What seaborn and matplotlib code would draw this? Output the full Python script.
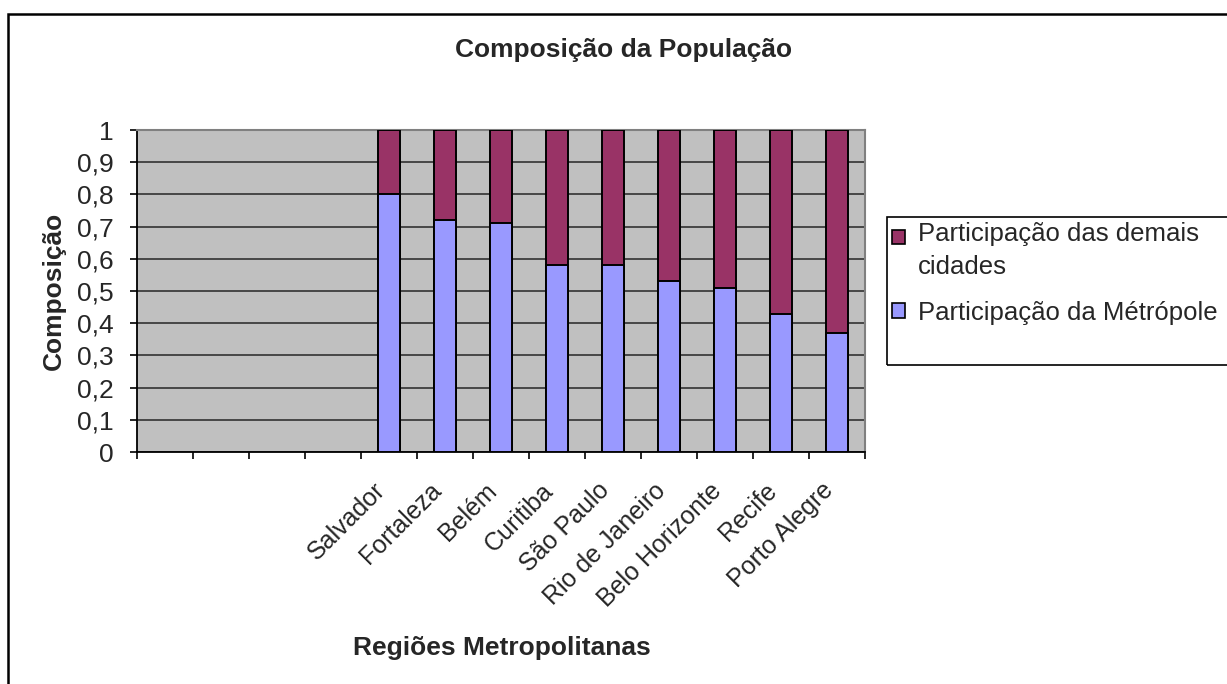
import numpy as np
import pandas as pd
import matplotlib
matplotlib.use("Agg")
import matplotlib.pyplot as plt
import matplotlib.patches as mpatches
import matplotlib.transforms as mtransforms
from matplotlib.legend_handler import HandlerPatch
from matplotlib.ticker import FixedLocator, NullFormatter
import seaborn as sns

# data
empty_slots = [" ", "  ", "   ", "    "]
cidades = ["Salvador", "Fortaleza", "Belém", "Curitiba", "São Paulo",
           "Rio de Janeiro", "Belo Horizonte", "Recife", "Porto Alegre"]
part_metropole = [0.80, 0.72, 0.71, 0.58, 0.58, 0.53, 0.51, 0.43, 0.37]
part_demais = [0.20, 0.28, 0.29, 0.42, 0.42, 0.47, 0.49, 0.57, 0.63]
y_ticks = [0, 0.1, 0.2, 0.3, 0.4, 0.5, 0.6, 0.7, 0.8, 0.9, 1.0]
y_labels = ["0", "0,1", "0,2", "0,3", "0,4", "0,5", "0,6", "0,7", "0,8", "0,9", "1"]

cor_metropole = "#9999FF"
cor_demais = "#993366"

df = pd.DataFrame({
    "cidade": cidades,
    "metropole": part_metropole,
    "total": np.array(part_metropole) + np.array(part_demais),
})
order = empty_slots + cidades

sns.set_style("white")
plt.rcParams["font.family"] = ["Liberation Sans", "DejaVu Sans"]

fig = plt.figure(figsize=(12.27, 6.84), dpi=100)
W, H = 1227, 684
ax = fig.add_axes([137 / W, 1 - 452 / H, (865 - 137) / W, (452 - 130) / H])
ax.set_facecolor("#C0C0C0")

# stacked: full bar first, metropole part on top of it
sns.barplot(data=df, x="cidade", y="total", order=order, color=cor_demais,
            width=0.41, edgecolor="black", linewidth=1.4, saturation=1,
            ax=ax, zorder=3)
sns.barplot(data=df, x="cidade", y="metropole", order=order, color=cor_metropole,
            width=0.41, edgecolor="black", linewidth=1.4, saturation=1,
            ax=ax, zorder=4)

ax.set_ylim(0, 1)
ax.set_xlim(-0.5, len(order) - 0.5)
ax.set_yticks(y_ticks)
ax.set_yticklabels(y_labels, fontsize=19)
ax.yaxis.grid(True, color="#262626", linewidth=1.1, zorder=0)
ax.set_axisbelow(True)

# category labels at centers, tick marks at category boundaries
ax.set_xticks(range(len(order)))
ax.set_xticklabels(order, rotation=45, ha="right", va="top",
                   rotation_mode="anchor", fontsize=18)
ax.tick_params(axis="x", which="major", length=0, pad=19)
shift = mtransforms.ScaledTranslation(-16 / 100, 0, fig.dpi_scale_trans)
for lbl in ax.get_xticklabels():
    lbl.set_transform(lbl.get_transform() + shift)
ax.xaxis.set_minor_locator(FixedLocator(np.arange(-0.5, len(order), 1.0)))
ax.xaxis.set_minor_formatter(NullFormatter())
ax.tick_params(axis="x", which="minor", length=5, width=1.2, color="black",
               direction="out", bottom=True)
ax.tick_params(axis="y", length=5, width=1.2, color="black", direction="out",
               left=True, pad=12)

for s in ["left", "bottom"]:
    ax.spines[s].set_color("black")
    ax.spines[s].set_linewidth(1.3)
for s in ["top", "right"]:
    ax.spines[s].set_color("#808080")
    ax.spines[s].set_linewidth(1.5)

ax.set_xlabel("Regiões Metropolitanas", fontsize=19, fontweight="bold")
ax.xaxis.set_label_coords(0.501, -0.57)
ax.set_ylabel("Composição", fontsize=19, fontweight="bold")
ax.yaxis.set_label_coords(-0.098, 0.5)

fig.text(624 / W, 1 - 50 / H, "Composição da População", fontsize=19,
         fontweight="bold", ha="center", va="center")


def top_square(legend, orig_handle, xdescent, ydescent, width, height, fontsize):
    # square aligned with the first text line of the entry
    dy = 10 if "\n" in orig_handle.get_label() else 0
    return mpatches.Rectangle((-xdescent, -ydescent + dy), width, height)


handles = [
    mpatches.Patch(facecolor=cor_demais, edgecolor="black", linewidth=1.2,
                   label="Participação das demais\ncidades"),
    mpatches.Patch(facecolor=cor_metropole, edgecolor="black", linewidth=1.2,
                   label="Participação da Métrópole"),
]
leg = fig.legend(handles=handles, loc="upper left",
                 bbox_to_anchor=(887 / W, 1 - 217 / H), fontsize=18.5,
                 frameon=False, handler_map={mpatches.Patch: HandlerPatch(patch_func=top_square)},
                 handlelength=0.5, handleheight=0.5, handletextpad=0.5,
                 borderpad=0.2, labelspacing=0.85, borderaxespad=0)
leg.get_texts()[0].set_linespacing(1.45)

# legend box, runs off the right edge like in the original
fig.patches.append(mpatches.Rectangle((887 / W, 1 - 365 / H), 0.3, (365 - 217) / H,
                                      transform=fig.transFigure, fill=False,
                                      edgecolor="black", linewidth=1.2))

# outer chart border (runs off the right and bottom edges)
fig.patches.append(mpatches.Rectangle((8 / W, -0.05), 1.1, 1 - 14 / H + 0.05,
                                      transform=fig.transFigure, fill=False,
                                      edgecolor="black", linewidth=1.8))

fig.savefig("out.png", dpi=100, facecolor="white")
